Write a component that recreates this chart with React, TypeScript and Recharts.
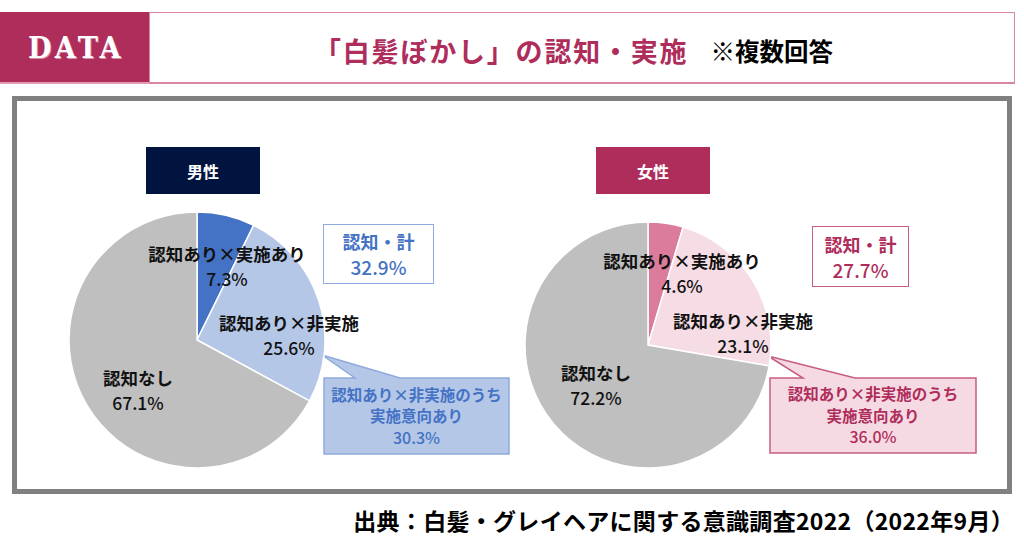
import { PieChart, Pie, Cell } from 'recharts';

// data
const categories = ['認知あり×実施あり', '認知あり×非実施', '認知なし'];
const groups = ['男性', '女性'];
const maleValues = [7.3, 25.6, 67.1];
const femaleValues = [4.6, 23.1, 72.2];
const totalLabel = '認知・計';
const totals = [32.9, 27.7];
const intentLines = ['認知あり×非実施のうち', '実施意向あり'];
const intents = [30.3, 36.0];
const titleMain = '「白髪ぼかし」の認知・実施';
const titleNote = '※複数回答';
const sourceText = '出典：白髪・グレイヘアに関する意識調査2022（2022年9月）';

const JP = '"Noto Sans CJK JP", "Noto Sans", sans-serif';
const CRIMSON = '#AE2D5B';
const NAVY = '#00143F';
const BLUE = '#4472C4';

const maleColors = ['#4472C4', '#B4C7E7', '#BFBFBF'];
const femaleColors = ['#DC7C9C', '#F6DCE5', '#BFBFBF'];

const maleOffsets = [[30, -87], [92, -18], [-59, 37]];
const femaleOffsets = [[34, -85], [95, -25], [-52, 27]];

const makeLabel = (values: number[], offsets: number[][]) => (props: any) => {
  const { cx, cy, index } = props;
  const [dx, dy] = offsets[index];
  const common = {
    textAnchor: 'middle' as const,
    dominantBaseline: 'central' as const,
    fill: '#111',
    fontFamily: JP,
    fontWeight: 700,
    fontSize: 17.5,
  };
  return (
    <g>
      <text x={cx + dx} y={cy + dy} {...common}>{categories[index]}</text>
      <text x={cx + dx} y={cy + dy + 25} {...common} fontWeight={500}>{values[index].toFixed(1)}%</text>
    </g>
  );
};

const toData = (values: number[]) => categories.map((name, i) => ({ name, value: values[i] }));

function GroupTag({ x, text, bg }: { x: number; text: string; bg: string }) {
  return (
    <div style={{
      position: 'absolute', left: x, top: 147, width: 114, height: 47, background: bg,
      color: '#fff', fontFamily: JP, fontWeight: 700, fontSize: 16,
      display: 'flex', alignItems: 'center', justifyContent: 'center',
    }}>{text}</div>
  );
}

function TotalBox({ x, y, w, h, value, color, border }: any) {
  return (
    <div style={{
      position: 'absolute', left: x, top: y, width: w, height: h, boxSizing: 'border-box',
      border: `1.5px solid ${border}`, background: '#fff', color, fontFamily: JP, fontWeight: 700,
      fontSize: 18, lineHeight: '26px', textAlign: 'center',
      display: 'flex', flexDirection: 'column', justifyContent: 'center',
    }}>
      <div>{totalLabel}</div>
      <div style={{ fontWeight: 500, fontSize: 19 }}>{value.toFixed(1)}%</div>
    </div>
  );
}

function IntentText({ x, y, w, h, value, color }: any) {
  return (
    <div style={{
      position: 'absolute', left: x, top: y, width: w, height: h, color,
      fontFamily: JP, fontWeight: 700, fontSize: 15.5, lineHeight: '21.5px', textAlign: 'center',
      display: 'flex', flexDirection: 'column', justifyContent: 'center',
    }}>
      {intentLines.map((l) => <div key={l}>{l}</div>)}
      <div style={{ fontWeight: 500, fontSize: 16 }}>{value.toFixed(1)}%</div>
    </div>
  );
}

export default function App() {
  return (
    <div style={{ position: 'absolute', left: 0, top: 0, width: 1024, height: 538, background: '#fff', overflow: 'hidden' }}>
      {/* header */}
      <div style={{
        position: 'absolute', left: 0, top: 12, width: 149, height: 72, background: CRIMSON,
        borderBottom: '2px solid #E39BB3', boxSizing: 'border-box',
        display: 'flex', alignItems: 'center', justifyContent: 'center',
        color: '#fff', fontFamily: '"DejaVu Serif Condensed", "DejaVu Serif", serif', fontWeight: 700,
        fontSize: 30, letterSpacing: 3.5, paddingLeft: 3,
        textShadow: '1px 1px 0 #d98aa5',
      }}>DATA</div>
      <div style={{
        position: 'absolute', left: 149, top: 12, width: 866, height: 72, boxSizing: 'border-box',
        border: '1.5px solid #D9879F', borderBottom: '2.5px solid #D9879F',
      }} />
      <div style={{
        position: 'absolute', left: 314, top: 30, height: 40, display: 'flex', alignItems: 'center',
        fontFamily: JP, fontWeight: 700, whiteSpace: 'nowrap',
      }}>
        <span style={{ color: CRIMSON, fontSize: 27, letterSpacing: 1.8 }}>{titleMain}</span>
        <span style={{ color: '#000', fontSize: 24.5, marginLeft: 22 }}>{titleNote}</span>
      </div>

      {/* panel */}
      <div style={{
        position: 'absolute', left: 12, top: 96, width: 1000, height: 398, boxSizing: 'border-box',
        border: '5px solid #808080',
      }} />

      <GroupTag x={146} text={groups[0]} bg={NAVY} />
      <GroupTag x={596} text={groups[1]} bg={CRIMSON} />

      <svg width={1024} height={538} style={{ position: 'absolute', left: 0, top: 0 }}>
        <polygon points="324,378 355,378 322,355 400,378 509,378 509,454 324,454"
          fill="#B4C7E7" stroke="#8FAADC" strokeWidth={1.5} />
        <polygon points="770,378 803,378 768,356 855,378 976,378 976,453 770,453"
          fill="#F6DAE3" stroke="#C85C84" strokeWidth={1.5} />
      </svg>

      <div style={{ position: 'absolute', left: 0, top: 0 }}>
        <PieChart width={1024} height={538} margin={{ top: 0, right: 0, bottom: 0, left: 0 }}>
          <Pie data={toData(maleValues)} dataKey="value" nameKey="name" cx={197} cy={340} outerRadius={128}
            startAngle={90} endAngle={-270} stroke="#fff" strokeWidth={1.5}
            label={makeLabel(maleValues, maleOffsets)} labelLine={false} isAnimationActive={false}>
            {maleColors.map((c, i) => <Cell key={i} fill={c} />)}
          </Pie>
          <Pie data={toData(femaleValues)} dataKey="value" nameKey="name" cx={648} cy={345} outerRadius={123}
            startAngle={90} endAngle={-270} stroke="#fff" strokeWidth={1.5}
            label={makeLabel(femaleValues, femaleOffsets)} labelLine={false} isAnimationActive={false}>
            {femaleColors.map((c, i) => <Cell key={i} fill={c} />)}
          </Pie>
        </PieChart>
      </div>

      <TotalBox x={323} y={224} w={111} h={60} value={totals[0]} color={BLUE} border="#8FAADC" />
      <TotalBox x={812} y={226} w={97} h={61} value={totals[1]} color={CRIMSON} border="#C85C84" />

      <IntentText x={324} y={378} w={185} h={76} value={intents[0]} color={BLUE} />
      <IntentText x={770} y={378} w={206} h={75} value={intents[1]} color={CRIMSON} />

      <div style={{
        position: 'absolute', right: 10, top: 503, fontFamily: JP, fontWeight: 700, fontSize: 23,
        color: '#000', whiteSpace: 'nowrap', letterSpacing: 0.3,
      }}>{sourceText}</div>
    </div>
  );
}
